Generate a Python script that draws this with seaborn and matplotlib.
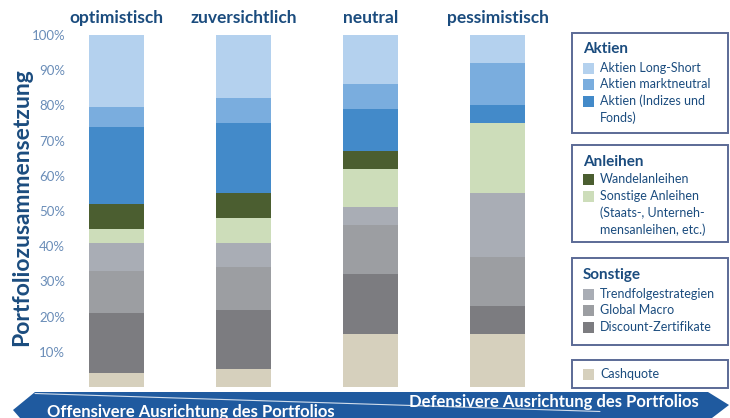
import matplotlib
matplotlib.use("Agg")
import matplotlib.pyplot as plt
import seaborn as sns
import pandas as pd
import numpy as np
from matplotlib.patches import Rectangle, Polygon

# ---------------- data ----------------
szenarien = ["optimistisch", "zuversichtlich", "neutral", "pessimistisch"]
# bottom -> top stacking order
kategorien = ["Cashquote", "Discount-Zertifikate", "Global Macro", "Trendfolgestrategien",
              "Sonstige Anleihen", "Wandelanleihen", "Aktien (Indizes und Fonds)",
              "Aktien marktneutral", "Aktien Long-Short"]
cashquote      = [4, 5, 15, 15]
discount       = [17, 17, 17, 8]
global_macro   = [12, 12, 14, 14]
trendfolge     = [8, 7, 5, 18]
sonst_anleihen = [4, 7, 11, 20]
wandel         = [7, 7, 5, 0]
aktien_idx     = [22, 20, 12, 5]
aktien_mn      = [5.5, 7, 7, 12]
aktien_ls      = [20.5, 18, 14, 8]
werte = [cashquote, discount, global_macro, trendfolge, sonst_anleihen,
         wandel, aktien_idx, aktien_mn, aktien_ls]
farben = ["#D6D0BD", "#7C7C80", "#9C9EA2", "#A9ADB5", "#CDDDBA",
          "#4B5E30", "#438AC9", "#7AADDE", "#B4D1EE"]
yticks = [10, 20, 30, 40, 50, 60, 70, 80, 90, 100]

DARK = "#1B4C7E"
TICK = "#6A8DB8"
BOX = "#5B6A96"
BAND = "#1F5A9F"

sns.set_theme(style="white")
plt.rcParams["font.family"] = ["Lato", "DejaVu Sans"]

fig = plt.figure(figsize=(7.3, 4.18), dpi=100)
W, H = 730, 418
ax = fig.add_axes([72 / W, (H - 387) / H, (561 - 72) / W, (387 - 35) / H])

df = pd.DataFrame({k: v for k, v in zip(kategorien, werte)})
df["Szenario"] = szenarien
cum = df[kategorien].cumsum(axis=1)

# draw cumulative bars from top layer down so each covers the lower part
for k, c in zip(reversed(kategorien), reversed(farben)):
    sns.barplot(x=df["Szenario"], y=cum[k], order=szenarien, color=c,
                width=0.433, saturation=1, ax=ax, edgecolor="none", linewidth=0)

ax.set_ylim(0, 100)
ax.set_xlim(-0.35, 3.5)
ax.set_yticks(yticks)
ax.set_yticklabels([f"{t}%" for t in yticks], color=TICK, fontsize=9.5)
ax.tick_params(axis="y", length=0, pad=5)
ax.set_xticks([])
ax.set_xlabel("")
ax.set_ylabel("")
for s in ax.spines.values():
    s.set_visible(False)
title_y = 1.0 + (35 - 18) / 352
for i, name in enumerate(szenarien):
    ax.text(i, title_y, name, transform=ax.get_xaxis_transform(), ha="center", va="center",
            fontsize=12.5, fontweight="bold", color=DARK)

# ---------------- overlay in pixel coordinates ----------------
ov = fig.add_axes([0, 0, 1, 1], zorder=5)
ov.set_xlim(0, W)
ov.set_ylim(H, 0)
ov.axis("off")
ov.patch.set_alpha(0)

ov.text(22, 207, "Portfoliozusammensetzung", rotation=90, ha="center", va="center",
        fontsize=16.5, fontweight="bold", color=DARK)

# bottom arrows band
band = Polygon([(13, 410), (35, 392), (708, 392), (729, 405), (712, 418), (20, 418)],
               closed=True, facecolor=BAND, edgecolor="none")
ov.add_patch(band)
ov.plot([35, 600], [393.5, 411.5], color="white", lw=0.8, alpha=0.8)
ov.text(699, 401.5, "Defensivere Ausrichtung des Portfolios", ha="right", va="center",
        fontsize=12, fontweight="bold", color="white")
ov.text(47, 412, "Offensivere Ausrichtung des Portfolios", ha="left", va="center",
        fontsize=12, fontweight="bold", color="white")

# legend boxes
def legend_box(y0, y1, header, items, lines_y, header_y):
    ov.add_patch(Rectangle((572, y0), 728 - 572, y1 - y0, facecolor="white",
                           edgecolor=BOX, lw=1.4))
    if header:
        ov.text(583, header_y, header, ha="left", va="center", fontsize=11,
                fontweight="bold", color=DARK)
    for (label, col, extra), y in zip(items, lines_y):
        ov.add_patch(Rectangle((583, y - 5.5), 11, 11, facecolor=col, edgecolor="none"))
        ov.text(600, y, label, ha="left", va="center", fontsize=9, color=DARK)
        for j, ex in enumerate(extra):
            ov.text(600, y + 17 * (j + 1), ex, ha="left", va="center", fontsize=9, color=DARK)

legend_box(33, 133, "Aktien",
           [("Aktien Long-Short", farben[8], []),
            ("Aktien marktneutral", farben[7], []),
            ("Aktien (Indizes und", farben[6], ["Fonds)"])],
           [68, 84, 101], 49)
legend_box(145, 242, "Anleihen",
           [("Wandelanleihen", farben[5], []),
            ("Sonstige Anleihen", farben[4], ["(Staats-, Unterneh-", "mensanleihen, etc.)"])],
           [179, 196], 162)
legend_box(258, 345, "Sonstige",
           [("Trendfolgestrategien", farben[3], []),
            ("Global Macro", farben[2], []),
            ("Discount-Zertifikate", farben[1], [])],
           [294, 310, 327], 275)
legend_box(360, 388, None,
           [("Cashquote", farben[0], [])],
           [374], None)

fig.savefig("out.png", dpi=100)
